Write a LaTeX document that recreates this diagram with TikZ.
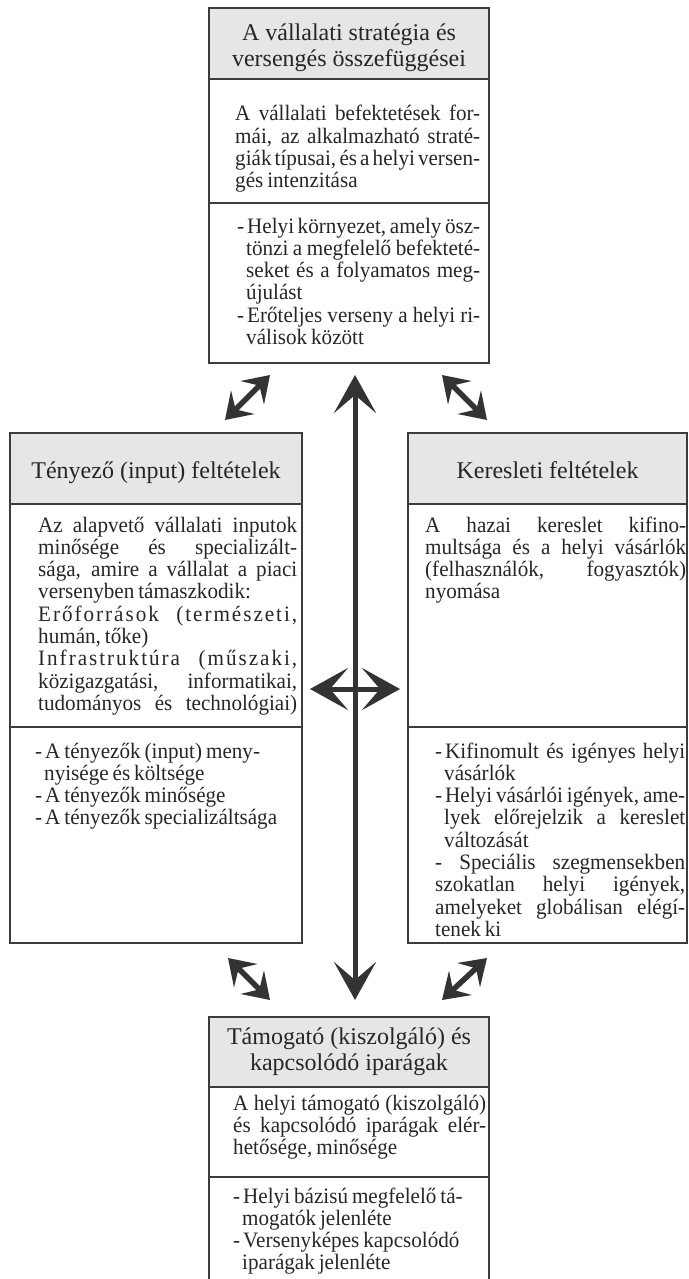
\documentclass[tikz,border=0pt]{standalone}
\usepackage{fontspec}
\setmainfont{Liberation Serif}
\newfontfamily\bodyfam[FakeStretch=0.96]{Liberation Serif}
\usetikzlibrary{arrows.meta,calc}

\definecolor{ink}{HTML}{262626}
\definecolor{rulec}{HTML}{3C3C3C}
\definecolor{headfill}{HTML}{E6E6E6}
\definecolor{arrowc}{HTML}{333333}

% one justified line, one line at natural width
\newcommand{\jline}[1]{\hbox to\linewidth{#1}}
\newcommand{\nline}[1]{\hbox{#1}}
% list dash and hanging indent of continuation lines
\newcommand{\ldash}{-\kern3pt}
\newcommand{\ind}{\kern9pt}
\newcommand{\spaced}{\addfontfeatures{LetterSpace=9}}
\newcommand{\bodyfont}{\bodyfam\fontsize{22}{22.3}\selectfont\spaceskip=.18em plus 1em minus .08em\relax}
\newcommand{\headfont}{\fontsize{24}{26}\selectfont}

\tikzset{
  panel/.style={draw=rulec, line width=1.1pt, anchor=north west, inner sep=0pt, outer sep=0pt},
  headpanel/.style={panel, fill=headfill},
  txt/.style={anchor=base west, inner sep=0pt, text=ink},
  htxt/.style={anchor=base, inner sep=0pt, text=ink},
  bigarrow/.style={draw=arrowc, line width=5pt,
    {Stealth[length=38pt,width=42pt,inset=18pt]}-{Stealth[length=38pt,width=42pt,inset=18pt]}},
  smallarrow/.style={draw=arrowc, line width=5.5pt,
    {Stealth[length=25pt,width=33pt,inset=10pt]}-{Stealth[length=25pt,width=33pt,inset=10pt]}}
}

\begin{document}
\begin{tikzpicture}[x=1pt,y=-1pt]
\useasboundingbox (0,0) rectangle (688,1279);
\clip (0,0) rectangle (688,1279);

% ---- top box: strategy and rivalry
\node[headpanel, minimum width=280pt, minimum height=71pt] (Ahead) at (209,8) {};
\node[panel, minimum width=280pt, minimum height=124pt] (Abody) at (Ahead.south west) {};
\node[panel, minimum width=280pt, minimum height=160pt] (Alow) at (Abody.south west) {};
\node[htxt] (Aht) at ($(Ahead.north)+(0,33)$) {\parbox[t]{270pt}{\centering\headfont
  A vállalati stratégia és\\versengés összefüggései}};
\node[txt] (Abt) at (235,121) {\parbox[t]{245pt}{\bodyfont
  \jline{A vállalati befektetések for-}
  \jline{mái, az alkalmazható straté-}
  \jline{giák típusai, és a helyi versen-}
  \nline{gés intenzitása}}};
\node[txt] (Alt) at (237,233) {\parbox[t]{243pt}{\bodyfont
  \jline{\ldash Helyi környezet, amely ösz-}
  \jline{\ind tönzi a megfelelő befekteté-}
  \jline{\ind seket és a folyamatos meg-}
  \nline{\ind újulást}
  \jline{\ldash Erőteljes verseny a helyi ri-}
  \nline{\ind válisok között}}};

% ---- left box: factor conditions
\node[headpanel, minimum width=292pt, minimum height=71pt] (Bhead) at (10,433) {};
\node[panel, minimum width=292pt, minimum height=223pt] (Bbody) at (Bhead.south west) {};
\node[panel, minimum width=292pt, minimum height=216pt] (Blow) at (Bbody.south west) {};
\node[htxt] (Bht) at ($(Bhead.north)+(0,45)$) {\headfont Tényező (input) feltételek};
\node[txt] (Bbt) at (38,532) {\parbox[t]{259pt}{\bodyfont
  \jline{Az alapvető vállalati inputok}
  \jline{minősége és specializált-}
  \jline{sága, amire a vállalat a piaci}
  \nline{versenyben támaszkodik:}
  \jline{\spaced Erőforrások (természeti,}
  \nline{humán, tőke)}
  \jline{\spaced Infrastruktúra (műszaki,}
  \jline{közigazgatási, informatikai,}
  \jline{tudományos és technológiai)}}};
\node[txt] (Blt) at (35,758) {\parbox[t]{259pt}{\bodyfont
  \nline{\ldash A tényezők (input) meny-}
  \nline{\ind nyisége és költsége}
  \nline{\ldash A tényezők minősége}
  \nline{\ldash A tényezők specializáltsága}}};

% ---- right box: demand conditions
\node[headpanel, minimum width=279pt, minimum height=71pt] (Chead) at (408,433) {};
\node[panel, minimum width=279pt, minimum height=223pt] (Cbody) at (Chead.south west) {};
\node[panel, minimum width=279pt, minimum height=216pt] (Clow) at (Cbody.south west) {};
\node[htxt] (Cht) at ($(Chead.north)+(0,45)$) {\headfont Keresleti feltételek};
\node[txt] (Cbt) at (425,532) {\parbox[t]{261pt}{\bodyfont
  \jline{A hazai kereslet kifino-}
  \jline{multsága és a helyi vásárlók}
  \jline{(felhasználók, fogyasztók)}
  \nline{nyomása}}};
\node[txt] (Clt) at (435,758) {\parbox[t]{250pt}{\bodyfont
  \jline{\ldash Kifinomult és igényes helyi}
  \nline{\ind vásárlók}
  \jline{\ldash Helyi vásárlói igények, ame-}
  \jline{\ind lyek előrejelzik a kereslet}
  \nline{\ind változását}
  \jline{- Speciális szegmensekben}
  \jline{szokatlan helyi igények,}
  \jline{amelyeket globálisan elégí-}
  \nline{tenek ki}}};

% ---- bottom box: related and supporting industries
\node[headpanel, minimum width=280pt, minimum height=70pt] (Dhead) at (209,1017) {};
\node[panel, minimum width=280pt, minimum height=90pt] (Dbody) at (Dhead.south west) {};
\node[panel, minimum width=280pt, minimum height=140pt] (Dlow) at (Dbody.south west) {};
\node[htxt] (Dht) at ($(Dhead.north)+(0,27)$) {\parbox[t]{270pt}{\centering\headfont
  Támogató (kiszolgáló) és\\kapcsolódó iparágak}};
\node[txt] (Dbt) at (233,1110) {\parbox[t]{253pt}{\bodyfont
  \jline{A helyi támogató (kiszolgáló)}
  \jline{és kapcsolódó iparágak elér-}
  \nline{hetősége, minősége}}};
\node[txt] (Dlt) at (233,1203) {\parbox[t]{253pt}{\bodyfont
  \nline{\ldash Helyi bázisú megfelelő tá-}
  \nline{\ind mogatók jelenléte}
  \nline{\ldash Versenyképes kapcsolódó}
  \nline{\ind iparágak jelenléte}}};

% ---- connectors
\path ($(Bbody.east)!0.5!(Cbody.west)$) coordinate (mid);
\coordinate (vt) at ($(Alow.south -| mid)+(0,12)$);
\coordinate (vb) at ($(Dhead.north -| mid)+(0,-17)$);
\draw[bigarrow] (vt) -- (vb);
\coordinate (hl) at ($(Bbody.south east)+(8,-38)$);
\coordinate (hr) at ($(Cbody.south west)+(-8,-38)$);
\draw[bigarrow] (hl) -- (hr);

\coordinate (tl1) at ($(Alow.south west)+(16,57)$);
\coordinate (tl2) at ($(Alow.south west)+(61,12)$);
\draw[smallarrow] (tl1) -- (tl2);
\coordinate (tr1) at ($(Alow.south east)+(-47,12)$);
\coordinate (tr2) at ($(Alow.south east)+(-2,57)$);
\draw[smallarrow] (tr1) -- (tr2);
\coordinate (bl1) at ($(Dhead.north west)+(19,-59)$);
\coordinate (bl2) at ($(Dhead.north west)+(61,-17)$);
\draw[smallarrow] (bl1) -- (bl2);
\coordinate (br1) at ($(Dhead.north east)+(-47,-17)$);
\coordinate (br2) at ($(Dhead.north east)+(-2,-59)$);
\draw[smallarrow] (br1) -- (br2);
\end{tikzpicture}
\end{document}
